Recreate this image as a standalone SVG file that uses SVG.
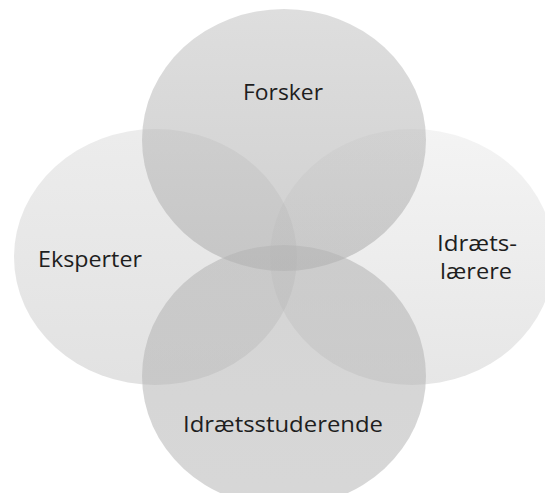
<svg xmlns="http://www.w3.org/2000/svg" width="545" height="493" viewBox="0 0 545 493">
  <defs>
    <!-- translucent grey fills, lighter at the top of each shape -->
    <linearGradient id="gTop" x1="0" y1="0" x2="0" y2="1">
      <stop offset="0" stop-color="#b4b4b4" stop-opacity="0.44"/>
      <stop offset="1" stop-color="#b4b4b4" stop-opacity="0.64"/>
    </linearGradient>
    <linearGradient id="gLeft" x1="0" y1="0" x2="0" y2="1">
      <stop offset="0" stop-color="#b4b4b4" stop-opacity="0.25"/>
      <stop offset="1" stop-color="#b4b4b4" stop-opacity="0.39"/>
    </linearGradient>
    <linearGradient id="gRight" x1="0" y1="0" x2="0" y2="1">
      <stop offset="0" stop-color="#b4b4b4" stop-opacity="0.15"/>
      <stop offset="1" stop-color="#b4b4b4" stop-opacity="0.33"/>
    </linearGradient>
    <linearGradient id="gBottom" x1="0" y1="0" x2="0" y2="1">
      <stop offset="0" stop-color="#b4b4b4" stop-opacity="0.57"/>
      <stop offset="1" stop-color="#b4b4b4" stop-opacity="0.53"/>
    </linearGradient>
  </defs>
  <style>
    .lbl { font-family: "Open Sans", "DejaVu Sans", sans-serif; font-size: 21px; fill: #1e1e1e; text-anchor: middle; }
  </style>
  <rect width="545" height="493" fill="#ffffff"/>
  <g id="connectors"/>
  <g id="forsker">
    <ellipse cx="284" cy="140" rx="142" ry="131" fill="url(#gTop)"/>
    <text class="lbl" x="283" y="100" textLength="80" lengthAdjust="spacingAndGlyphs">Forsker</text>
  </g>
  <g id="idraetslaerere">
    <ellipse cx="412" cy="257" rx="142" ry="128" fill="url(#gRight)"/>
    <text class="lbl" x="477" y="251" textLength="80" lengthAdjust="spacingAndGlyphs">Idræts-</text>
    <text class="lbl" x="476" y="279" textLength="72" lengthAdjust="spacingAndGlyphs">lærere</text>
  </g>
  <g id="idraetsstuderende">
    <ellipse cx="284" cy="376" rx="142" ry="131" fill="url(#gBottom)"/>
    <text class="lbl" x="283" y="432" textLength="200" lengthAdjust="spacingAndGlyphs">Idrætsstuderende</text>
  </g>
  <g id="eksperter">
    <ellipse cx="155.5" cy="257" rx="141.5" ry="128" fill="url(#gLeft)"/>
    <text class="lbl" x="90" y="267" textLength="104" lengthAdjust="spacingAndGlyphs">Eksperter</text>
  </g>
</svg>
